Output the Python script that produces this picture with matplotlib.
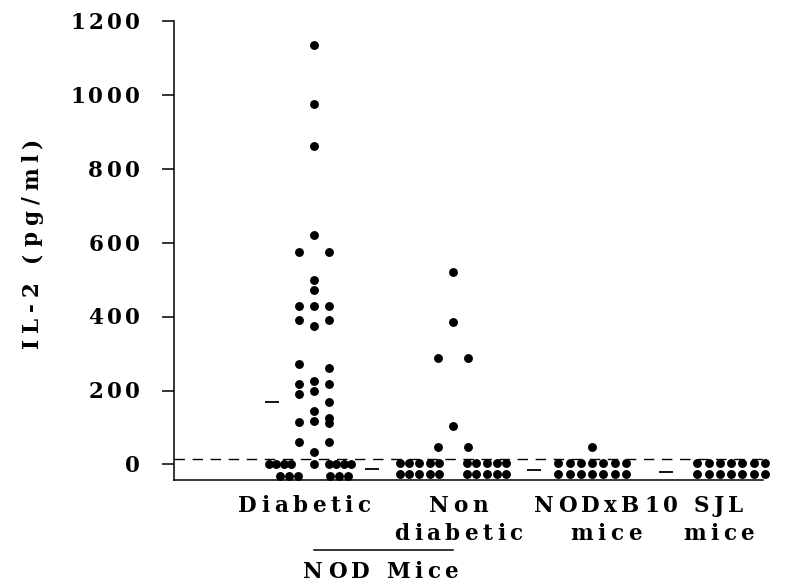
import numpy as np
import matplotlib
matplotlib.use("Agg")
import matplotlib.pyplot as plt
from matplotlib.font_manager import FontProperties, findfont, get_font
from matplotlib.transforms import offset_copy

# groups on the x axis
groups = ["Diabetic", "Non\ndiabetic", "NODxB10\nmice", "SJL\nmice"]
bracket_label = "NOD Mice"
ylabel = "IL-2 (pg/ml)"
yticks = [0, 200, 400, 600, 800, 1000, 1200]
detection_limit = 16

# IL-2 per mouse (pg/ml), with the dot column each was stacked in
diabetic_il2 = [1135, 976, 862, 622, 575, 575, 500, 473, 428, 428, 428,
                390, 376, 390, 272, 261, 225, 218, 218, 198, 192, 169,
                146, 126, 111, 117, 114, 60, 60, 34,
                0, 0, 0, 0, 0, 0, 0, 0, 0,
                -32, -32, -32, -32, -32, -32]
diabetic_col = [0, 0, 0, 0, -2, 2, 0, 0, -2, 0, 2,
                -2, 0, 2, -2, 2, 0, -2, 2, 0, -2, 2,
                0, 2, 2, 0, -2, -2, 2, 0,
                -6, -5, -4, -3, 0, 2, 3, 4, 5,
                -4.5, -3.3, -2.1, 2.1, 3.3, 4.5]

nondiab_il2 = [522, 385, 288, 288, 104, 47, 47] + [3] * 10 + [-27] * 10
nondiab_col = [0, 0, -2, 2, 0, -2, 2] + \
    [-7.1, -5.8, -4.5, -3.1, -1.8, 1.8, 3.1, 4.5, 5.8, 7.1] * 2

nodb10_il2 = [46] + [3] * 7 + [-27] * 7
nodb10_col = [0] + [-4.5, -3, -1.5, 0, 1.5, 3, 4.5] * 2

sjl_il2 = [3] * 7 + [-27] * 7
sjl_col = [-4.5, -3, -1.5, 0, 1.5, 3, 4.5] * 2

group_means = [170, -11, -16, -19]

# layout
SLOT = 7.5 / 139
mean_shift = [-0.30, -0.58, -0.42, -0.47]
label_x = [-0.07, 1.04, 2.1, 2.91]

fig = plt.figure(figsize=(7.95, 5.85), dpi=100)
ax = fig.add_axes([174 / 795, 105 / 585, 589 / 795, 459 / 585])

FP = FontProperties(family="DejaVu Serif", weight="bold", size=15.5)


def advances(s, fp):
    font = get_font(findfont(fp))
    font.set_size(fp.get_size_in_points(), 72)
    return [font.load_char(ord(ch)).linearHoriAdvance / 65536 for ch in s]


def tracked(x, y, s, transform, track, ha="center", rot=0, dx=0, dy=0):
    # draw text one glyph at a time to get the wide letter spacing
    adv = advances(s, FP)
    width = sum(adv) + track * (len(s) - 1)
    pen = {"left": 0, "center": -width / 2, "right": -width}[ha]
    for ch, a in zip(s, adv):
        c = pen + a / 2
        if rot == 90:
            tr = offset_copy(transform, fig=fig, x=dx, y=dy + c, units="points")
        else:
            tr = offset_copy(transform, fig=fig, x=dx + c, y=dy, units="points")
        ax.text(x, y, ch, transform=tr, fontproperties=FP, ha="center",
                va="baseline", rotation=rot, rotation_mode="anchor",
                clip_on=False)
        pen += a + track


all_vals = [diabetic_il2, nondiab_il2, nodb10_il2, sjl_il2]
all_cols = [diabetic_col, nondiab_col, nodb10_col, sjl_col]
for i, (v, c) in enumerate(zip(all_vals, all_cols)):
    xs = i + np.array(c) * SLOT
    ax.plot(xs, v, "o", color="black", markersize=6.4, markeredgewidth=0,
            clip_on=False, zorder=3)
    ax.plot(i + mean_shift[i], group_means[i], marker="_", color="black",
            markersize=10.5, markeredgewidth=1.3, clip_on=False)

ax.axhline(detection_limit, color="black", linewidth=1.0,
           linestyle=(0, (7.5, 5.5)), zorder=1)

ax.set_xlim(-1.007, 3.23)
ax.set_ylim(-42, 1200)
ax.set_xticks([])
ax.set_yticks(yticks)
ax.set_yticklabels([])
ax.tick_params(axis="y", direction="out", length=8.6, width=1.1)
for side in ["top", "right"]:
    ax.spines[side].set_visible(False)
for side in ["left", "bottom"]:
    ax.spines[side].set_linewidth(1.1)

# tick labels
ytr = ax.get_yaxis_transform()
for t in yticks:
    tracked(0, t, str(t), ytr, 2.4, ha="right", dx=-24.5, dy=-5.6)

# y label
tracked(0, 600, ylabel, ytr, 4.2, ha="center", rot=90, dx=-98)

# group labels
xtr = ax.get_xaxis_transform()
for i, name in enumerate(groups):
    for j, line in enumerate(name.split("\n")):
        tracked(label_x[i], 0, line, xtr, 3.2, dy=-23 - 20.2 * j)

# bracket under the two NOD groups
ax.plot([0, 1], [-70 / 459, -70 / 459], transform=xtr, color="black",
        linewidth=1.1, clip_on=False)
tracked(0.48, 0, bracket_label, xtr, 3.2, dy=-70.5)

fig.savefig("out.png", dpi=100)
